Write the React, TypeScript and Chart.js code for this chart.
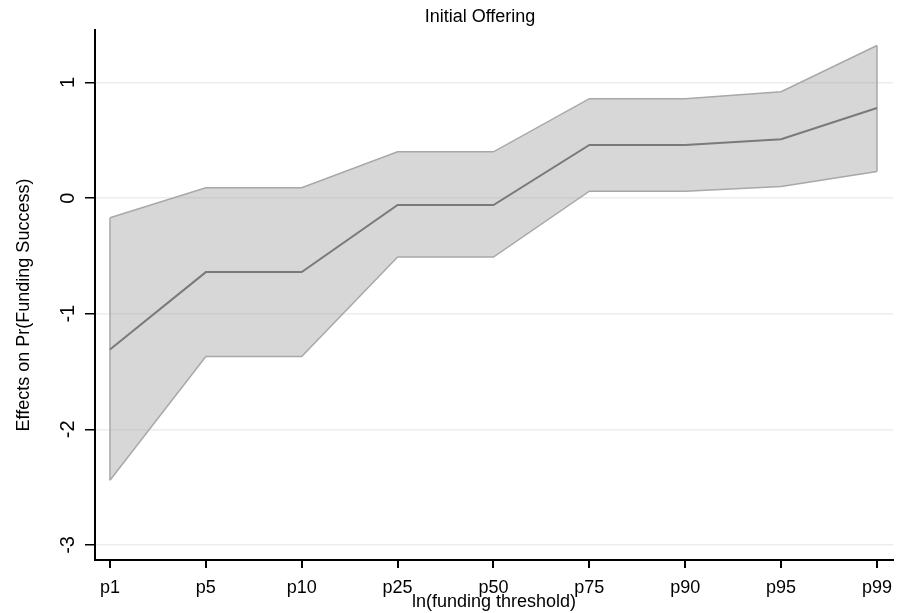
import React, { useEffect, useRef } from "react";
import { Chart, registerables } from "chart.js";

Chart.register(...registerables);

const categories = ["p1", "p5", "p10", "p25", "p50", "p75", "p90", "p95", "p99"];
const effect = [-1.31, -0.64, -0.64, -0.06, -0.06, 0.46, 0.46, 0.51, 0.78];
const upperCI = [-0.17, 0.09, 0.09, 0.4, 0.4, 0.86, 0.86, 0.92, 1.32];
const lowerCI = [-2.44, -1.37, -1.37, -0.51, -0.51, 0.06, 0.06, 0.1, 0.23];
const yTicks = [-3, -2, -1, 0, 1];
const titleText = "Initial Offering";
const yTitle = "Effects on Pr(Funding Success)";
const xTitle = "ln(funding threshold)";

const FONT = "'Liberation Sans', Arial, sans-serif";

export default function App() {
  const ref = useRef<HTMLCanvasElement | null>(null);

  useEffect(() => {
    if (!ref.current) return;
    const pts = (arr: number[]) => arr.map((v, i) => ({ x: i, y: v }));
    const last = categories.length - 1;

    const textPlugin = {
      id: "customText",
      afterDraw(chart: any) {
        const { ctx, chartArea, scales } = chart;
        const ys = scales.y;
        ctx.save();
        ctx.fillStyle = "#000";
        // y tick labels (rotated)
        ctx.font = `20px ${FONT}`;
        ctx.textAlign = "center";
        ctx.textBaseline = "middle";
        for (const v of yTicks) {
          const py = ys.getPixelForValue(v);
          ctx.save();
          ctx.translate(68, py);
          ctx.rotate(-Math.PI / 2);
          ctx.fillText(String(v), 0, 0);
          ctx.restore();
        }
        // y title
        ctx.font = `18px ${FONT}`;
        ctx.save();
        ctx.translate(24, 305);
        ctx.rotate(-Math.PI / 2);
        ctx.textBaseline = "middle";
        ctx.fillText(yTitle, 0, 0);
        ctx.restore();
        // chart title
        ctx.textBaseline = "alphabetic";
        ctx.fillText(titleText, (chartArea.left + chartArea.right) / 2 - 14, 22);
        // x title
        ctx.fillText(xTitle, (chartArea.left + chartArea.right) / 2, 607);
        ctx.restore();
      },
    };

    const chart = new Chart(ref.current, {
      type: "line",
      data: {
        datasets: [
          {
            label: "effect",
            data: pts(effect),
            borderColor: "#7a7a7a",
            borderWidth: 2,
            pointRadius: 0,
            fill: false,
            tension: 0,
          },
          {
            label: "upper",
            data: pts(upperCI),
            borderColor: "#a8a8a8",
            borderWidth: 1.5,
            backgroundColor: "rgba(160,160,160,0.42)",
            pointRadius: 0,
            fill: "+1",
            tension: 0,
          },
          {
            label: "lower",
            data: pts(lowerCI),
            borderColor: "#a8a8a8",
            borderWidth: 1.5,
            pointRadius: 0,
            fill: false,
            tension: 0,
          },
          {
            label: "leftEdge",
            data: [
              { x: 0, y: lowerCI[0] },
              { x: 0, y: upperCI[0] },
            ],
            borderColor: "#a8a8a8",
            borderWidth: 1.5,
            pointRadius: 0,
            fill: false,
          },
          {
            label: "rightEdge",
            data: [
              { x: last, y: lowerCI[last] },
              { x: last, y: upperCI[last] },
            ],
            borderColor: "#a8a8a8",
            borderWidth: 1.5,
            pointRadius: 0,
            fill: false,
          },
        ],
      },
      options: {
        responsive: false,
        animation: false,
        devicePixelRatio: 1,
        layout: { padding: { top: 30, right: 10, left: 0, bottom: 0 } },
        plugins: {
          legend: { display: false },
          title: { display: false },
          tooltip: { enabled: false },
          filler: { drawTime: "beforeDatasetsDraw" },
        } as any,
        scales: {
          x: {
            type: "linear",
            min: -0.156,
            max: 8.167,
            afterBuildTicks: (s: any) => {
              s.ticks = categories.map((_, i) => ({ value: i }));
            },
            afterFit: (s: any) => {
              s.height = 53;
            },
            ticks: {
              callback: (v: any) => categories[v] ?? "",
              font: { family: FONT, size: 18 },
              color: "#000",
              padding: 9,
              maxRotation: 0,
              autoSkip: false,
            },
            grid: {
              drawOnChartArea: false,
              color: "#000",
              tickColor: "#000",
              tickLength: 8,
              lineWidth: 2,
            },
            border: { display: true, color: "#000", width: 2 },
          },
          y: {
            type: "linear",
            min: -3.13,
            max: 1.454,
            afterBuildTicks: (s: any) => {
              s.ticks = yTicks.map((v) => ({ value: v }));
            },
            afterFit: (s: any) => {
              s.width = 95;
            },
            ticks: { display: false },
            grid: {
              color: "#e8eef2",
              lineWidth: 1.5,
              tickColor: "#000",
              tickLength: 10,
            },
            border: { display: true, color: "#000", width: 2 },
          },
        },
      },
      plugins: [textPlugin],
    });
    return () => chart.destroy();
  }, []);

  return (
    <div style={{ position: "absolute", left: 0, top: 0, width: 903, height: 613, background: "#fff" }}>
      <canvas ref={ref} width={903} height={613} />
    </div>
  );
}
